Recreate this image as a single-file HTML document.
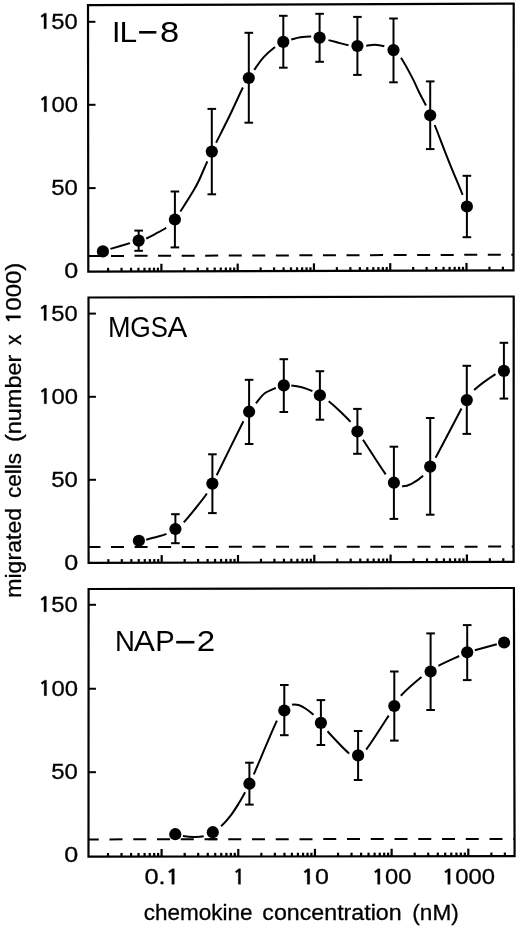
<!DOCTYPE html>
<html><head><meta charset="utf-8"><style>
html,body{margin:0;padding:0;background:#fff;width:520px;height:929px;overflow:hidden}
svg{display:block;will-change:transform}
</style></head><body>
<svg width="520" height="929" viewBox="0 0 520 929">
<rect width="520" height="929" fill="#fff"/>
<g fill="none" stroke="#000" stroke-width="2.2" stroke-linecap="square" stroke-linejoin="miter">
<path d="M88.00 5.20 L513.70 3.60 L513.50 270.40 L88.30 271.60 Z"/>
<path d="M88.50 297.50 L513.70 296.50 L513.60 561.90 L88.60 562.90 Z"/>
<path d="M88.60 589.00 L513.90 588.00 L514.60 856.20 L88.50 856.70 Z"/>
</g>
<g stroke="#000" stroke-width="2">
<line x1="88.02" y1="21.80" x2="95.42" y2="21.80"/>
<line x1="88.11" y1="104.80" x2="95.51" y2="104.80"/>
<line x1="88.21" y1="188.10" x2="95.61" y2="188.10"/>
<line x1="88.51" y1="313.60" x2="95.91" y2="313.60"/>
<line x1="88.54" y1="396.80" x2="95.94" y2="396.80"/>
<line x1="88.57" y1="479.80" x2="95.97" y2="479.80"/>
<line x1="88.59" y1="604.80" x2="95.99" y2="604.80"/>
<line x1="88.56" y1="688.75" x2="95.96" y2="688.75"/>
<line x1="88.53" y1="772.20" x2="95.93" y2="772.20"/>
</g>
<g stroke="#000" stroke-width="2.2">
<line x1="108.09" y1="271.54" x2="108.09" y2="267.84"/>
<line x1="121.52" y1="271.51" x2="121.52" y2="267.81"/>
<line x1="131.05" y1="271.48" x2="131.05" y2="267.78"/>
<line x1="138.44" y1="271.46" x2="138.44" y2="267.76"/>
<line x1="144.48" y1="271.44" x2="144.48" y2="267.74"/>
<line x1="149.58" y1="271.43" x2="149.58" y2="267.73"/>
<line x1="154.01" y1="271.41" x2="154.01" y2="267.71"/>
<line x1="157.91" y1="271.40" x2="157.91" y2="267.70"/>
<line x1="161.40" y1="271.39" x2="161.40" y2="263.79"/>
<line x1="184.36" y1="271.33" x2="184.36" y2="267.63"/>
<line x1="197.79" y1="271.29" x2="197.79" y2="267.59"/>
<line x1="207.32" y1="271.26" x2="207.32" y2="267.56"/>
<line x1="214.71" y1="271.24" x2="214.71" y2="267.54"/>
<line x1="220.75" y1="271.23" x2="220.75" y2="267.53"/>
<line x1="225.86" y1="271.21" x2="225.86" y2="267.51"/>
<line x1="230.28" y1="271.20" x2="230.28" y2="267.50"/>
<line x1="234.18" y1="271.19" x2="234.18" y2="267.49"/>
<line x1="237.68" y1="271.18" x2="237.68" y2="263.58"/>
<line x1="260.64" y1="271.11" x2="260.64" y2="267.41"/>
<line x1="274.07" y1="271.08" x2="274.07" y2="267.38"/>
<line x1="283.60" y1="271.05" x2="283.60" y2="267.35"/>
<line x1="290.99" y1="271.03" x2="290.99" y2="267.33"/>
<line x1="297.03" y1="271.01" x2="297.03" y2="267.31"/>
<line x1="302.13" y1="271.00" x2="302.13" y2="267.30"/>
<line x1="306.56" y1="270.98" x2="306.56" y2="267.28"/>
<line x1="310.46" y1="270.97" x2="310.46" y2="267.27"/>
<line x1="313.95" y1="270.96" x2="313.95" y2="263.36"/>
<line x1="336.91" y1="270.90" x2="336.91" y2="267.20"/>
<line x1="350.34" y1="270.86" x2="350.34" y2="267.16"/>
<line x1="359.87" y1="270.83" x2="359.87" y2="267.13"/>
<line x1="367.26" y1="270.81" x2="367.26" y2="267.11"/>
<line x1="373.30" y1="270.80" x2="373.30" y2="267.10"/>
<line x1="378.41" y1="270.78" x2="378.41" y2="267.08"/>
<line x1="382.83" y1="270.77" x2="382.83" y2="267.07"/>
<line x1="386.73" y1="270.76" x2="386.73" y2="267.06"/>
<line x1="390.23" y1="270.75" x2="390.23" y2="263.15"/>
<line x1="413.19" y1="270.68" x2="413.19" y2="266.98"/>
<line x1="426.62" y1="270.65" x2="426.62" y2="266.95"/>
<line x1="436.15" y1="270.62" x2="436.15" y2="266.92"/>
<line x1="443.54" y1="270.60" x2="443.54" y2="266.90"/>
<line x1="449.58" y1="270.58" x2="449.58" y2="266.88"/>
<line x1="454.68" y1="270.57" x2="454.68" y2="266.87"/>
<line x1="459.11" y1="270.55" x2="459.11" y2="266.85"/>
<line x1="463.01" y1="270.54" x2="463.01" y2="266.84"/>
<line x1="466.50" y1="270.53" x2="466.50" y2="262.93"/>
<line x1="489.46" y1="270.47" x2="489.46" y2="266.77"/>
<line x1="502.89" y1="270.43" x2="502.89" y2="266.73"/>
<line x1="108.37" y1="562.85" x2="108.37" y2="559.15"/>
<line x1="121.80" y1="562.82" x2="121.80" y2="559.12"/>
<line x1="131.34" y1="562.80" x2="131.34" y2="559.10"/>
<line x1="138.73" y1="562.78" x2="138.73" y2="559.08"/>
<line x1="144.77" y1="562.77" x2="144.77" y2="559.07"/>
<line x1="149.88" y1="562.76" x2="149.88" y2="559.06"/>
<line x1="154.31" y1="562.75" x2="154.31" y2="559.05"/>
<line x1="158.21" y1="562.74" x2="158.21" y2="559.04"/>
<line x1="161.70" y1="562.73" x2="161.70" y2="555.13"/>
<line x1="184.67" y1="562.67" x2="184.67" y2="558.97"/>
<line x1="198.10" y1="562.64" x2="198.10" y2="558.94"/>
<line x1="207.64" y1="562.62" x2="207.64" y2="558.92"/>
<line x1="215.03" y1="562.60" x2="215.03" y2="558.90"/>
<line x1="221.07" y1="562.59" x2="221.07" y2="558.89"/>
<line x1="226.18" y1="562.58" x2="226.18" y2="558.88"/>
<line x1="230.61" y1="562.57" x2="230.61" y2="558.87"/>
<line x1="234.51" y1="562.56" x2="234.51" y2="558.86"/>
<line x1="238.00" y1="562.55" x2="238.00" y2="554.95"/>
<line x1="260.97" y1="562.49" x2="260.97" y2="558.79"/>
<line x1="274.40" y1="562.46" x2="274.40" y2="558.76"/>
<line x1="283.94" y1="562.44" x2="283.94" y2="558.74"/>
<line x1="291.33" y1="562.42" x2="291.33" y2="558.72"/>
<line x1="297.37" y1="562.41" x2="297.37" y2="558.71"/>
<line x1="302.48" y1="562.40" x2="302.48" y2="558.70"/>
<line x1="306.91" y1="562.39" x2="306.91" y2="558.69"/>
<line x1="310.81" y1="562.38" x2="310.81" y2="558.68"/>
<line x1="314.30" y1="562.37" x2="314.30" y2="554.77"/>
<line x1="337.27" y1="562.31" x2="337.27" y2="558.61"/>
<line x1="350.70" y1="562.28" x2="350.70" y2="558.58"/>
<line x1="360.24" y1="562.26" x2="360.24" y2="558.56"/>
<line x1="367.63" y1="562.24" x2="367.63" y2="558.54"/>
<line x1="373.67" y1="562.23" x2="373.67" y2="558.53"/>
<line x1="378.78" y1="562.22" x2="378.78" y2="558.52"/>
<line x1="383.21" y1="562.21" x2="383.21" y2="558.51"/>
<line x1="387.11" y1="562.20" x2="387.11" y2="558.50"/>
<line x1="390.60" y1="562.19" x2="390.60" y2="554.59"/>
<line x1="413.57" y1="562.14" x2="413.57" y2="558.44"/>
<line x1="427.00" y1="562.10" x2="427.00" y2="558.40"/>
<line x1="436.54" y1="562.08" x2="436.54" y2="558.38"/>
<line x1="443.93" y1="562.06" x2="443.93" y2="558.36"/>
<line x1="449.97" y1="562.05" x2="449.97" y2="558.35"/>
<line x1="455.08" y1="562.04" x2="455.08" y2="558.34"/>
<line x1="459.51" y1="562.03" x2="459.51" y2="558.33"/>
<line x1="463.41" y1="562.02" x2="463.41" y2="558.32"/>
<line x1="466.90" y1="562.01" x2="466.90" y2="554.41"/>
<line x1="489.87" y1="561.96" x2="489.87" y2="558.26"/>
<line x1="503.30" y1="561.92" x2="503.30" y2="558.22"/>
<line x1="108.01" y1="856.68" x2="108.01" y2="852.98"/>
<line x1="121.51" y1="856.66" x2="121.51" y2="852.96"/>
<line x1="131.09" y1="856.65" x2="131.09" y2="852.95"/>
<line x1="138.52" y1="856.64" x2="138.52" y2="852.94"/>
<line x1="144.59" y1="856.63" x2="144.59" y2="852.93"/>
<line x1="149.72" y1="856.63" x2="149.72" y2="852.93"/>
<line x1="154.17" y1="856.62" x2="154.17" y2="852.92"/>
<line x1="158.09" y1="856.62" x2="158.09" y2="852.92"/>
<line x1="161.60" y1="856.61" x2="161.60" y2="849.01"/>
<line x1="184.68" y1="856.59" x2="184.68" y2="852.89"/>
<line x1="198.18" y1="856.57" x2="198.18" y2="852.87"/>
<line x1="207.76" y1="856.56" x2="207.76" y2="852.86"/>
<line x1="215.19" y1="856.55" x2="215.19" y2="852.85"/>
<line x1="221.26" y1="856.54" x2="221.26" y2="852.84"/>
<line x1="226.40" y1="856.54" x2="226.40" y2="852.84"/>
<line x1="230.84" y1="856.53" x2="230.84" y2="852.83"/>
<line x1="234.77" y1="856.53" x2="234.77" y2="852.83"/>
<line x1="238.28" y1="856.52" x2="238.28" y2="848.92"/>
<line x1="261.36" y1="856.50" x2="261.36" y2="852.80"/>
<line x1="274.86" y1="856.48" x2="274.86" y2="852.78"/>
<line x1="284.44" y1="856.47" x2="284.44" y2="852.77"/>
<line x1="291.87" y1="856.46" x2="291.87" y2="852.76"/>
<line x1="297.94" y1="856.45" x2="297.94" y2="852.75"/>
<line x1="303.07" y1="856.45" x2="303.07" y2="852.75"/>
<line x1="307.52" y1="856.44" x2="307.52" y2="852.74"/>
<line x1="311.44" y1="856.44" x2="311.44" y2="852.74"/>
<line x1="314.95" y1="856.43" x2="314.95" y2="848.83"/>
<line x1="338.03" y1="856.41" x2="338.03" y2="852.71"/>
<line x1="351.53" y1="856.39" x2="351.53" y2="852.69"/>
<line x1="361.11" y1="856.38" x2="361.11" y2="852.68"/>
<line x1="368.54" y1="856.37" x2="368.54" y2="852.67"/>
<line x1="374.61" y1="856.36" x2="374.61" y2="852.66"/>
<line x1="379.75" y1="856.36" x2="379.75" y2="852.66"/>
<line x1="384.19" y1="856.35" x2="384.19" y2="852.65"/>
<line x1="388.12" y1="856.35" x2="388.12" y2="852.65"/>
<line x1="391.62" y1="856.34" x2="391.62" y2="848.74"/>
<line x1="414.71" y1="856.32" x2="414.71" y2="852.62"/>
<line x1="428.21" y1="856.30" x2="428.21" y2="852.60"/>
<line x1="437.79" y1="856.29" x2="437.79" y2="852.59"/>
<line x1="445.22" y1="856.28" x2="445.22" y2="852.58"/>
<line x1="451.29" y1="856.27" x2="451.29" y2="852.57"/>
<line x1="456.42" y1="856.27" x2="456.42" y2="852.57"/>
<line x1="460.87" y1="856.26" x2="460.87" y2="852.56"/>
<line x1="464.79" y1="856.26" x2="464.79" y2="852.56"/>
<line x1="468.30" y1="856.25" x2="468.30" y2="848.65"/>
<line x1="491.38" y1="856.23" x2="491.38" y2="852.53"/>
<line x1="504.88" y1="856.21" x2="504.88" y2="852.51"/>
</g>
<g stroke="#000" stroke-width="2">
<line x1="88.00" y1="256.00" x2="513.70" y2="254.70" stroke-dasharray="13.00 10.55" stroke-dashoffset="0.55"/>
<line x1="88.50" y1="547.00" x2="513.70" y2="546.60" stroke-dasharray="13.00 10.57" stroke-dashoffset="1.05"/>
<line x1="88.60" y1="839.40" x2="513.90" y2="838.90" stroke-dasharray="13.00 10.75" stroke-dashoffset="2.85"/>
</g>
<g fill="none" stroke="#000" stroke-width="2.0" stroke-linecap="butt">
<path d="M110.50 248.90 C115.02 247.52 125.31 244.48 130.00 243.10"/>
<path d="M146.20 238.50 C148.99 237.37 152.07 235.60 155.40 233.80 C158.73 232.00 162.95 230.08 166.20 227.70"/>
<path d="M180.40 211.50 C183.43 206.80 190.03 196.42 193.10 191.30 C196.17 186.18 196.43 185.80 198.80 180.80 C201.17 175.80 205.13 166.17 207.30 161.30"/>
<path d="M216.10 142.70 C219.07 136.73 225.13 125.00 229.60 115.80 C234.07 106.60 239.70 93.80 242.90 87.50"/>
<path d="M254.20 69.90 C256.65 66.45 260.03 61.12 263.50 57.30 C266.97 53.48 271.70 49.57 275.00 47.00"/>
<path d="M291.20 39.60 C294.05 38.83 297.07 37.82 300.40 37.30 C303.73 36.78 308.00 36.45 311.20 36.50"/>
<path d="M328.50 40.10 C331.65 40.95 335.17 41.83 338.50 42.70 C341.83 43.57 345.35 44.75 348.50 45.30"/>
<path d="M366.20 45.80 C369.07 45.58 371.58 44.62 374.60 44.70 C377.62 44.78 381.15 45.40 384.30 46.30"/>
<path d="M401.00 57.80 C404.12 62.38 409.18 71.87 412.20 77.60 C415.22 83.33 416.80 87.55 419.10 92.20 C421.40 96.85 424.15 101.65 426.00 105.50"/>
<path d="M434.70 125.00 C437.73 132.50 443.75 148.67 448.40 160.30 C453.05 171.93 459.52 187.10 462.60 194.80"/>
<path d="M146.20 539.70 C148.95 539.10 152.02 538.18 155.40 537.20 C158.78 536.22 163.17 535.17 166.50 533.80"/>
<path d="M183.80 522.30 C187.13 518.88 191.55 513.30 195.40 508.50 C199.25 503.70 204.07 497.65 206.90 493.50"/>
<path d="M216.70 475.20 C221.87 464.80 238.00 431.78 243.40 421.20"/>
<path d="M255.90 403.40 C258.52 400.33 261.48 395.87 264.80 393.30 C268.12 390.73 272.63 389.32 275.80 388.00"/>
<path d="M291.30 385.40 C294.30 385.72 298.28 386.33 301.80 387.30 C305.32 388.27 309.38 389.87 312.40 391.20"/>
<path d="M328.70 401.30 C331.87 403.78 335.27 406.78 338.90 410.20 C342.53 413.62 347.42 418.25 350.50 421.80"/>
<path d="M363.00 439.70 C367.72 446.83 380.55 467.13 385.70 474.30"/>
<path d="M402.10 486.20 C405.03 486.38 408.00 485.53 411.50 483.80 C415.00 482.07 419.98 478.67 423.10 475.80"/>
<path d="M435.60 457.80 C440.82 448.12 456.30 418.12 461.50 408.50"/>
<path d="M474.10 390.10 C478.88 385.78 490.53 377.40 495.50 374.20"/>
<path d="M182.90 835.90 C185.85 836.37 189.53 836.93 193.00 837.00 C196.47 837.07 200.40 837.10 203.70 836.30"/>
<path d="M221.10 826.30 C224.17 823.40 228.25 818.63 231.20 814.80 C234.15 810.97 236.48 807.07 238.80 803.30 C241.12 799.53 243.33 795.47 245.10 792.20"/>
<path d="M253.80 774.40 C258.38 763.88 271.82 731.25 276.90 720.60"/>
<path d="M292.10 704.80 C294.47 703.88 296.28 704.38 298.50 705.00 C300.72 705.62 302.90 706.87 305.40 708.50 C307.90 710.13 310.92 712.40 313.50 714.80"/>
<path d="M327.50 731.30 C332.22 736.40 344.10 749.48 349.20 753.50"/>
<path d="M366.20 749.60 C371.30 742.97 384.02 722.87 388.70 715.60"/>
<path d="M400.80 695.70 C405.33 690.87 416.53 681.03 421.50 677.00"/>
<path d="M438.40 665.80 C443.17 663.22 454.40 658.25 459.20 656.00"/>
<path d="M474.80 650.20 C479.73 648.87 491.92 645.58 496.80 644.30"/>
</g>
<g stroke="#000" stroke-width="2" fill="#000">
<circle cx="102.90" cy="251.40" r="6.10" stroke="none"/>
<line x1="138.65" y1="230.60" x2="138.65" y2="240.60"/>
<line x1="134.35" y1="230.60" x2="142.95" y2="230.60"/>
<line x1="138.65" y1="240.60" x2="138.65" y2="250.80"/>
<line x1="134.35" y1="250.80" x2="142.95" y2="250.80"/>
<circle cx="138.65" cy="240.60" r="6.10" stroke="none"/>
<line x1="174.90" y1="191.50" x2="174.90" y2="219.50"/>
<line x1="170.60" y1="191.50" x2="179.20" y2="191.50"/>
<line x1="174.90" y1="219.50" x2="174.90" y2="247.40"/>
<line x1="170.60" y1="247.40" x2="179.20" y2="247.40"/>
<circle cx="174.90" cy="219.50" r="6.10" stroke="none"/>
<line x1="211.80" y1="108.90" x2="211.80" y2="151.60"/>
<line x1="207.50" y1="108.90" x2="216.10" y2="108.90"/>
<line x1="211.80" y1="151.60" x2="211.80" y2="194.30"/>
<line x1="207.50" y1="194.30" x2="216.10" y2="194.30"/>
<circle cx="211.80" cy="151.60" r="6.10" stroke="none"/>
<line x1="248.80" y1="32.80" x2="248.80" y2="78.00"/>
<line x1="244.50" y1="32.80" x2="253.10" y2="32.80"/>
<line x1="248.80" y1="78.00" x2="248.80" y2="122.70"/>
<line x1="244.50" y1="122.70" x2="253.10" y2="122.70"/>
<circle cx="248.80" cy="78.00" r="6.10" stroke="none"/>
<line x1="283.30" y1="15.80" x2="283.30" y2="41.90"/>
<line x1="279.00" y1="15.80" x2="287.60" y2="15.80"/>
<line x1="283.30" y1="41.90" x2="283.30" y2="67.70"/>
<line x1="279.00" y1="67.70" x2="287.60" y2="67.70"/>
<circle cx="283.30" cy="41.90" r="6.10" stroke="none"/>
<line x1="319.60" y1="13.80" x2="319.60" y2="37.60"/>
<line x1="315.30" y1="13.80" x2="323.90" y2="13.80"/>
<line x1="319.60" y1="37.60" x2="319.60" y2="61.80"/>
<line x1="315.30" y1="61.80" x2="323.90" y2="61.80"/>
<circle cx="319.60" cy="37.60" r="6.10" stroke="none"/>
<line x1="357.40" y1="16.90" x2="357.40" y2="46.00"/>
<line x1="353.10" y1="16.90" x2="361.70" y2="16.90"/>
<line x1="357.40" y1="46.00" x2="357.40" y2="74.90"/>
<line x1="353.10" y1="74.90" x2="361.70" y2="74.90"/>
<circle cx="357.40" cy="46.00" r="6.10" stroke="none"/>
<line x1="393.50" y1="18.50" x2="393.50" y2="50.10"/>
<line x1="389.20" y1="18.50" x2="397.80" y2="18.50"/>
<line x1="393.50" y1="50.10" x2="393.50" y2="82.30"/>
<line x1="389.20" y1="82.30" x2="397.80" y2="82.30"/>
<circle cx="393.50" cy="50.10" r="6.10" stroke="none"/>
<line x1="430.20" y1="81.40" x2="430.20" y2="115.30"/>
<line x1="425.90" y1="81.40" x2="434.50" y2="81.40"/>
<line x1="430.20" y1="115.30" x2="430.20" y2="149.10"/>
<line x1="425.90" y1="149.10" x2="434.50" y2="149.10"/>
<circle cx="430.20" cy="115.30" r="6.10" stroke="none"/>
<line x1="466.90" y1="175.80" x2="466.90" y2="206.50"/>
<line x1="462.60" y1="175.80" x2="471.20" y2="175.80"/>
<line x1="466.90" y1="206.50" x2="466.90" y2="237.20"/>
<line x1="462.60" y1="237.20" x2="471.20" y2="237.20"/>
<circle cx="466.90" cy="206.50" r="6.10" stroke="none"/>
<circle cx="138.90" cy="540.80" r="6.10" stroke="none"/>
<line x1="175.40" y1="514.20" x2="175.40" y2="529.00"/>
<line x1="171.10" y1="514.20" x2="179.70" y2="514.20"/>
<line x1="175.40" y1="529.00" x2="175.40" y2="543.20"/>
<line x1="171.10" y1="543.20" x2="179.70" y2="543.20"/>
<circle cx="175.40" cy="529.00" r="6.10" stroke="none"/>
<line x1="212.40" y1="454.30" x2="212.40" y2="483.60"/>
<line x1="208.10" y1="454.30" x2="216.70" y2="454.30"/>
<line x1="212.40" y1="483.60" x2="212.40" y2="513.10"/>
<line x1="208.10" y1="513.10" x2="216.70" y2="513.10"/>
<circle cx="212.40" cy="483.60" r="6.10" stroke="none"/>
<line x1="249.10" y1="379.80" x2="249.10" y2="411.70"/>
<line x1="244.80" y1="379.80" x2="253.40" y2="379.80"/>
<line x1="249.10" y1="411.70" x2="249.10" y2="444.00"/>
<line x1="244.80" y1="444.00" x2="253.40" y2="444.00"/>
<circle cx="249.10" cy="411.70" r="6.10" stroke="none"/>
<line x1="283.80" y1="359.20" x2="283.80" y2="385.40"/>
<line x1="279.50" y1="359.20" x2="288.10" y2="359.20"/>
<line x1="283.80" y1="385.40" x2="283.80" y2="412.00"/>
<line x1="279.50" y1="412.00" x2="288.10" y2="412.00"/>
<circle cx="283.80" cy="385.40" r="6.10" stroke="none"/>
<line x1="319.90" y1="371.20" x2="319.90" y2="395.30"/>
<line x1="315.60" y1="371.20" x2="324.20" y2="371.20"/>
<line x1="319.90" y1="395.30" x2="319.90" y2="419.70"/>
<line x1="315.60" y1="419.70" x2="324.20" y2="419.70"/>
<circle cx="319.90" cy="395.30" r="6.10" stroke="none"/>
<line x1="357.40" y1="408.90" x2="357.40" y2="431.50"/>
<line x1="353.10" y1="408.90" x2="361.70" y2="408.90"/>
<line x1="357.40" y1="431.50" x2="357.40" y2="453.80"/>
<line x1="353.10" y1="453.80" x2="361.70" y2="453.80"/>
<circle cx="357.40" cy="431.50" r="6.10" stroke="none"/>
<line x1="393.90" y1="446.70" x2="393.90" y2="482.70"/>
<line x1="389.60" y1="446.70" x2="398.20" y2="446.70"/>
<line x1="393.90" y1="482.70" x2="393.90" y2="518.90"/>
<line x1="389.60" y1="518.90" x2="398.20" y2="518.90"/>
<circle cx="393.90" cy="482.70" r="6.10" stroke="none"/>
<line x1="430.20" y1="418.00" x2="430.20" y2="466.60"/>
<line x1="425.90" y1="418.00" x2="434.50" y2="418.00"/>
<line x1="430.20" y1="466.60" x2="430.20" y2="514.70"/>
<line x1="425.90" y1="514.70" x2="434.50" y2="514.70"/>
<circle cx="430.20" cy="466.60" r="6.10" stroke="none"/>
<line x1="466.80" y1="365.80" x2="466.80" y2="400.10"/>
<line x1="462.50" y1="365.80" x2="471.10" y2="365.80"/>
<line x1="466.80" y1="400.10" x2="466.80" y2="433.90"/>
<line x1="462.50" y1="433.90" x2="471.10" y2="433.90"/>
<circle cx="466.80" cy="400.10" r="6.10" stroke="none"/>
<line x1="503.90" y1="342.80" x2="503.90" y2="370.90"/>
<line x1="499.60" y1="342.80" x2="508.20" y2="342.80"/>
<line x1="503.90" y1="370.90" x2="503.90" y2="398.60"/>
<line x1="499.60" y1="398.60" x2="508.20" y2="398.60"/>
<circle cx="503.90" cy="370.90" r="6.10" stroke="none"/>
<circle cx="175.30" cy="834.20" r="6.10" stroke="none"/>
<line x1="212.80" y1="832.20" x2="212.80" y2="839.20"/>
<line x1="208.50" y1="839.20" x2="217.10" y2="839.20"/>
<circle cx="212.80" cy="832.20" r="6.10" stroke="none"/>
<line x1="249.40" y1="762.70" x2="249.40" y2="783.70"/>
<line x1="245.10" y1="762.70" x2="253.70" y2="762.70"/>
<line x1="249.40" y1="783.70" x2="249.40" y2="804.60"/>
<line x1="245.10" y1="804.60" x2="253.70" y2="804.60"/>
<circle cx="249.40" cy="783.70" r="6.10" stroke="none"/>
<line x1="284.30" y1="685.00" x2="284.30" y2="710.50"/>
<line x1="280.00" y1="685.00" x2="288.60" y2="685.00"/>
<line x1="284.30" y1="710.50" x2="284.30" y2="735.20"/>
<line x1="280.00" y1="735.20" x2="288.60" y2="735.20"/>
<circle cx="284.30" cy="710.50" r="6.10" stroke="none"/>
<line x1="320.90" y1="700.10" x2="320.90" y2="722.90"/>
<line x1="316.60" y1="700.10" x2="325.20" y2="700.10"/>
<line x1="320.90" y1="722.90" x2="320.90" y2="745.00"/>
<line x1="316.60" y1="745.00" x2="325.20" y2="745.00"/>
<circle cx="320.90" cy="722.90" r="6.10" stroke="none"/>
<line x1="358.10" y1="731.00" x2="358.10" y2="755.40"/>
<line x1="353.80" y1="731.00" x2="362.40" y2="731.00"/>
<line x1="358.10" y1="755.40" x2="358.10" y2="780.00"/>
<line x1="353.80" y1="780.00" x2="362.40" y2="780.00"/>
<circle cx="358.10" cy="755.40" r="6.10" stroke="none"/>
<line x1="394.30" y1="671.50" x2="394.30" y2="706.00"/>
<line x1="390.00" y1="671.50" x2="398.60" y2="671.50"/>
<line x1="394.30" y1="706.00" x2="394.30" y2="740.60"/>
<line x1="390.00" y1="740.60" x2="398.60" y2="740.60"/>
<circle cx="394.30" cy="706.00" r="6.10" stroke="none"/>
<line x1="430.60" y1="633.40" x2="430.60" y2="671.50"/>
<line x1="426.30" y1="633.40" x2="434.90" y2="633.40"/>
<line x1="430.60" y1="671.50" x2="430.60" y2="710.00"/>
<line x1="426.30" y1="710.00" x2="434.90" y2="710.00"/>
<circle cx="430.60" cy="671.50" r="6.10" stroke="none"/>
<line x1="467.20" y1="625.10" x2="467.20" y2="652.30"/>
<line x1="462.90" y1="625.10" x2="471.50" y2="625.10"/>
<line x1="467.20" y1="652.30" x2="467.20" y2="680.10"/>
<line x1="462.90" y1="680.10" x2="471.50" y2="680.10"/>
<circle cx="467.20" cy="652.30" r="6.10" stroke="none"/>
<circle cx="504.10" cy="642.50" r="6.10" stroke="none"/>
</g>
<g font-family='"Liberation Sans", sans-serif' fill="#000" stroke="#000" stroke-width="0.3">
<g transform="translate(38.15 28.73) scale(1.0557 1)"><path vector-effect="non-scaling-stroke" transform="translate(0.00 0) scale(22.500 -22.500)" d="M0.245 0 L0.345 0 L0.345 0.688 L0.265 0.688 L0.112 0.570 L0.160 0.502 L0.245 0.574 Z"/><text x="12.51" y="0" font-size="22.50">50</text></g>
<g transform="translate(38.34 111.73) scale(1.0586 1)"><path vector-effect="non-scaling-stroke" transform="translate(0.00 0) scale(22.500 -22.500)" d="M0.245 0 L0.345 0 L0.345 0.688 L0.265 0.688 L0.112 0.570 L0.160 0.502 L0.245 0.574 Z"/><text x="12.51" y="0" font-size="22.50">00</text></g>
<g transform="translate(51.29 195.03) scale(1.0625 1)"><text x="0.00" y="0" font-size="22.50">50</text></g>
<g transform="translate(64.37 278.43) scale(1.1157 1)"><text x="0.00" y="0" font-size="22.50">0</text></g>
<g transform="translate(38.15 320.53) scale(1.0557 1)"><path vector-effect="non-scaling-stroke" transform="translate(0.00 0) scale(22.500 -22.500)" d="M0.245 0 L0.345 0 L0.345 0.688 L0.265 0.688 L0.112 0.570 L0.160 0.502 L0.245 0.574 Z"/><text x="12.51" y="0" font-size="22.50">50</text></g>
<g transform="translate(38.34 403.73) scale(1.0586 1)"><path vector-effect="non-scaling-stroke" transform="translate(0.00 0) scale(22.500 -22.500)" d="M0.245 0 L0.345 0 L0.345 0.688 L0.265 0.688 L0.112 0.570 L0.160 0.502 L0.245 0.574 Z"/><text x="12.51" y="0" font-size="22.50">00</text></g>
<g transform="translate(51.29 486.73) scale(1.0625 1)"><text x="0.00" y="0" font-size="22.50">50</text></g>
<g transform="translate(64.37 569.93) scale(1.1157 1)"><text x="0.00" y="0" font-size="22.50">0</text></g>
<g transform="translate(38.15 611.73) scale(1.0557 1)"><path vector-effect="non-scaling-stroke" transform="translate(0.00 0) scale(22.500 -22.500)" d="M0.245 0 L0.345 0 L0.345 0.688 L0.265 0.688 L0.112 0.570 L0.160 0.502 L0.245 0.574 Z"/><text x="12.51" y="0" font-size="22.50">50</text></g>
<g transform="translate(38.34 695.68) scale(1.0586 1)"><path vector-effect="non-scaling-stroke" transform="translate(0.00 0) scale(22.500 -22.500)" d="M0.245 0 L0.345 0 L0.345 0.688 L0.265 0.688 L0.112 0.570 L0.160 0.502 L0.245 0.574 Z"/><text x="12.51" y="0" font-size="22.50">00</text></g>
<g transform="translate(51.29 779.13) scale(1.0625 1)"><text x="0.00" y="0" font-size="22.50">50</text></g>
<g transform="translate(64.37 862.23) scale(1.1157 1)"><text x="0.00" y="0" font-size="22.50">0</text></g>
<g transform="translate(144.46 884.33) scale(1.1258 1)"><text x="0.00" y="0" font-size="22.50">0.</text><path vector-effect="non-scaling-stroke" transform="translate(18.76 0) scale(22.500 -22.500)" d="M0.245 0 L0.345 0 L0.345 0.688 L0.265 0.688 L0.112 0.570 L0.160 0.502 L0.245 0.574 Z"/></g>
<g transform="translate(301.10 884.33) scale(1.1120 1)"><path vector-effect="non-scaling-stroke" transform="translate(0.00 0) scale(22.500 -22.500)" d="M0.245 0 L0.345 0 L0.345 0.688 L0.265 0.688 L0.112 0.570 L0.160 0.502 L0.245 0.574 Z"/><text x="12.51" y="0" font-size="22.50">0</text></g>
<g transform="translate(371.75 884.33) scale(1.0557 1)"><path vector-effect="non-scaling-stroke" transform="translate(0.00 0) scale(22.500 -22.500)" d="M0.245 0 L0.345 0 L0.345 0.688 L0.265 0.688 L0.112 0.570 L0.160 0.502 L0.245 0.574 Z"/><text x="12.51" y="0" font-size="22.50">00</text></g>
<g transform="translate(441.93 884.33) scale(1.0619 1)"><path vector-effect="non-scaling-stroke" transform="translate(0.00 0) scale(22.500 -22.500)" d="M0.245 0 L0.345 0 L0.345 0.688 L0.265 0.688 L0.112 0.570 L0.160 0.502 L0.245 0.574 Z"/><text x="12.51" y="0" font-size="22.50">000</text></g>
<path vector-effect="non-scaling-stroke" transform="translate(232.79 884.25) scale(22.500 -22.500)" d="M0.245 0 L0.345 0 L0.345 0.688 L0.265 0.688 L0.112 0.570 L0.160 0.502 L0.245 0.574 Z"/>
<g stroke="none">
<text x="111.99" y="42.40" font-size="30.30">I</text>
<g transform="translate(119.45 42.40) scale(1.0479 1)"><text x="0.00" y="0" font-size="30.30">L</text></g>
<g transform="translate(159.95 42.40) scale(1.1394 1)"><text x="0.00" y="0" font-size="30.30">8</text></g>
<rect x="139.1" y="31.0" width="17.3" height="2.6"/>
<g transform="translate(108.03 337.40) scale(0.8930 1)"><text x="0.00" y="0" font-size="30.30">M</text></g>
<g transform="translate(130.22 337.40) scale(0.8695 1)"><text x="0.00" y="0" font-size="30.30">G</text></g>
<g transform="translate(150.78 337.40) scale(0.8485 1)"><text x="0.00" y="0" font-size="30.30">S</text></g>
<g transform="translate(167.39 337.40) scale(0.9805 1)"><text x="0.00" y="0" font-size="30.30">A</text></g>
<g transform="translate(114.99 650.70) scale(0.9377 1)"><text x="0.00" y="0" font-size="29.40">N</text></g>
<g transform="translate(133.69 650.70) scale(1.0823 1)"><text x="0.00" y="0" font-size="29.40">A</text></g>
<g transform="translate(155.16 650.70) scale(0.9906 1)"><text x="0.00" y="0" font-size="29.40">P</text></g>
<g transform="translate(196.68 650.70) scale(1.1274 1)"><text x="0.00" y="0" font-size="29.40">2</text></g>
<rect x="176.2" y="640.9" width="18.2" height="2.6"/>
</g>
<g transform="translate(143.79 920.00) scale(1.0568 1)"><text x="0.00" y="0" font-size="21.30">chemokine</text></g>
<g transform="translate(262.36 920.00) scale(1.0892 1)"><text x="0.00" y="0" font-size="21.30">concentration</text></g>
<g transform="translate(412.35 920.00) scale(1.0600 1)"><text x="0.00" y="0" font-size="21.30">(nM)</text></g>
<g transform="translate(20.55 597.79) rotate(-90) scale(1.0864 1)"><text x="0.00" y="0" font-size="21.30">migrated</text></g>
<g transform="translate(20.55 497.90) rotate(-90) scale(1.0553 1)"><text x="0.00" y="0" font-size="21.30">cells</text></g>
<g transform="translate(20.55 442.11) rotate(-90) scale(1.1038 1)"><text x="0.00" y="0" font-size="21.30">(number</text></g>
<g transform="translate(20.55 345.08) rotate(-90) scale(0.9723 1)"><text x="0.00" y="0" font-size="21.30">x</text></g>
<g transform="translate(20.55 323.98) rotate(-90) scale(1.1255 1)"><path vector-effect="non-scaling-stroke" transform="translate(0.00 0) scale(21.300 -21.300)" d="M0.245 0 L0.345 0 L0.345 0.688 L0.265 0.688 L0.112 0.570 L0.160 0.502 L0.245 0.574 Z"/><text x="11.85" y="0" font-size="21.30">000)</text></g>
</g>
</svg>
</body></html>
